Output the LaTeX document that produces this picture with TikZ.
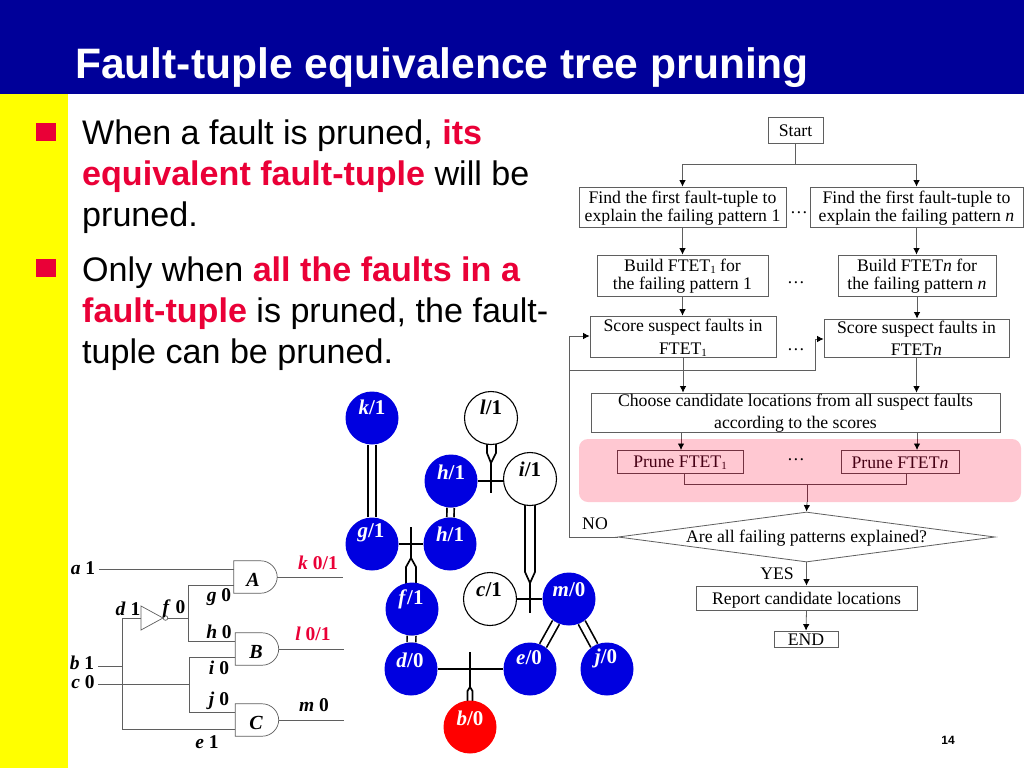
\documentclass[tikz,border=0pt]{standalone}
\usepackage{fontspec}
\setmainfont{Liberation Serif}
\newfontfamily\arialf{Liberation Sans}
\usetikzlibrary{arrows.meta,shapes.geometric,calc}
\pgfdeclarelayer{base}
\pgfdeclarelayer{wires}
\pgfsetlayers{base,wires,main}
\definecolor{hdrblue}{RGB}{0,0,153}
\definecolor{slideyellow}{RGB}{255,255,0}
\definecolor{accentred}{RGB}{234,0,55}
\definecolor{pinkband}{RGB}{255,200,210}
\definecolor{treeblue}{RGB}{0,0,224}
\definecolor{treered}{RGB}{255,0,0}
\definecolor{wiregray}{RGB}{95,95,95}
\definecolor{pinkline}{RGB}{115,50,65}
\definecolor{pinktext}{RGB}{70,0,20}
\newcommand{\lowidx}[1]{\raisebox{-2pt}{\fontsize{11}{11}\selectfont #1}}
% push the text of a box down without moving the box
\newcommand{\dnone}[2]{\raisebox{-#1}[\height][\depth]{#2}}
\newcommand{\dnmulti}[1]{\rule{0pt}{\dimexpr12.1pt+2\dimexpr#1\relax\relax}}
\newcommand{\andshape}[1]{%
  \draw[wire,fill=none] (#1.north west) -- ++(27,0) .. controls ++(8.8,0) and ($(#1.east)+(0,-8.8)$) .. (#1.east)
    .. controls ($(#1.east)+(0,8.8)$) and ($(#1.south west)+(35.8,0)$) .. ($(#1.south west)+(27,0)$) -- (#1.south west) -- cycle;}
\tikzset{
  x=1pt,y=-1pt,
  titletext/.style={anchor=base west,inner sep=0pt,text=white,font=\arialf\bfseries\fontsize{42.6}{46}\selectfont},
  bodytext/.style={anchor=base west,inner sep=0pt,font=\arialf\fontsize{34.1}{38}\selectfont},
  flowbox/.style={draw=wiregray,line width=0.8pt,inner xsep=0pt,inner ysep=-4pt,align=center,font=\fontsize{17.7}{18}\selectfont},
  prunebox/.style={flowbox,draw=pinkline,text=pinktext},
  flowlabel/.style={inner sep=0pt,font=\fontsize{17.7}{18}\selectfont},
  tiphead/.tip={Latex[length=6.5pt,width=6.5pt,black]},
  flow/.style={draw=wiregray,line width=0.8pt,-tiphead},
  flowplain/.style={draw=wiregray,line width=0.8pt},
  pinkflow/.style={draw=pinkline,line width=0.8pt},
  wire/.style={draw=wiregray,line width=0.7pt},
  gatebox/.style={inner sep=0pt,minimum width=43pt,minimum height=32pt},
  gatelabel/.style={inner sep=0pt,font=\bfseries\itshape\fontsize{20}{22}\selectfont},
  siglabel/.style={inner sep=0pt,anchor=center,font=\bfseries\fontsize{19.5}{20}\selectfont},
  faultfill/.style={circle,minimum size=53pt,inner sep=0pt,fill=treeblue,text=white},
  faultwhite/.style={circle,minimum size=53pt,inner sep=0pt,draw=black,line width=1.1pt,fill=white},
  faultred/.style={circle,minimum size=53pt,inner sep=0pt,fill=treered,text=white},
  facetext/.style={inner sep=0pt,font=\bfseries\fontsize{21}{22}\selectfont},
  dbl/.style={draw=black,line width=1.7pt,fill=white},
  dblline/.style={draw=black,line width=1.7pt,double=white,double distance=#1},
  single/.style={draw=black,line width=1.2pt},
}
\begin{document}
\begin{tikzpicture}
\useasboundingbox (0,0) rectangle (1024,768);
\begin{pgfonlayer}{base}
\fill[white] (0,0) rectangle (1024,768);
\fill[hdrblue] (0,0) rectangle (1024,94);
\fill[slideyellow] (0,94) rectangle (68,768);
\fill[pinkband,rounded corners=9pt] (579,439) rectangle (1021,502);
\end{pgfonlayer}
\node[titletext] (title) at (75,78) {Fault-tuple equivalence tree pruning};

% bullets
\fill[accentred] (36,123) rectangle (56,141);
\fill[accentred] (36,259) rectangle (56,277);
\node[bodytext] (l1) at (82,144) {When a fault is pruned, \textcolor{accentred}{\textbf{its}}};
\node[bodytext] (l2) at (82,185) {\textcolor{accentred}{\textbf{equivalent fault-tuple}} will be};
\node[bodytext] (l3) at (82,226) {pruned.};
\node[bodytext] (l4) at (82,281) {Only when \textcolor{accentred}{\textbf{all the faults in a}}};
\node[bodytext] (l5) at (82,322) {\textcolor{accentred}{\textbf{fault-tuple}} is pruned, the fault-};
\node[bodytext] (l6) at (82,363) {tuple can be pruned.};

% flowchart
\node[flowbox,minimum width=55pt,minimum height=26pt] (start) at (795.5,130) {\dnone{1pt}{Start}};
\node[flowbox,minimum width=207pt,minimum height=40pt] (find1) at (682.5,207) {\dnmulti{1pt}Find the first fault-tuple to\\explain the failing pattern 1};
\node[flowbox,minimum width=213pt,minimum height=40pt] (findn) at (916.5,207) {\dnmulti{1pt}Find the first fault-tuple to\\explain the failing pattern \textit{n}};
\node[flowbox,minimum width=171pt,minimum height=41pt] (build1) at (682.5,275.5) {\dnmulti{1pt}Build FTET\lowidx{1} for\\the failing pattern 1};
\node[flowbox,minimum width=158pt,minimum height=41pt] (buildn) at (917,275.5) {\dnmulti{1pt}Build FTET\textit{n} for\\the failing pattern \textit{n}};
\node[flowbox,minimum width=186pt,minimum height=41pt,font=\fontsize{17.7}{23}\selectfont] (score1) at (683,336.5) {\dnmulti{1.5pt}Score suspect faults in\\FTET\lowidx{1}};
\node[flowbox,minimum width=185pt,minimum height=38pt,font=\fontsize{17.7}{22}\selectfont] (scoren) at (916.5,338) {Score suspect faults in\\FTET\textit{n}};
\node[flowbox,minimum width=409pt,minimum height=39pt,font=\fontsize{17.7}{22}\selectfont] (choose) at (795.5,412.5) {\dnmulti{1pt}Choose candidate locations from all suspect faults\\according to the scores};
\node[prunebox,minimum width=126pt,minimum height=23pt] (prune1) at (680,461.5) {\dnone{1pt}{Prune FTET\lowidx{1}}};
\node[prunebox,minimum width=118pt,minimum height=23pt] (prunen) at (900,461.5) {\dnone{1pt}{Prune FTET\textit{n}}};
\node[diamond,aspect=7.54,draw=wiregray,line width=0.8pt,inner sep=0pt,minimum width=377pt,minimum height=50pt,font=\fontsize{17.7}{18}\selectfont] (ask) at (806.5,537) {\dnone{1.5pt}{Are all failing patterns explained?}};
\node[flowbox,minimum width=221pt,minimum height=24pt] (report) at (806.5,598) {\dnone{2pt}{Report candidate locations}};
\node[flowbox,minimum width=64pt,minimum height=16pt] (endbox) at (806,639) {\dnone{1pt}{END}};

\node[flowlabel] (dots1) at (799,213) {…};
\node[flowlabel] (dots2) at (796,283) {…};
\node[flowlabel] (dots3) at (796,350) {…};
\node[flowlabel] (dots4) at (796,460) {…};
\node[flowlabel] (nolabel) at (595,524) {NO};
\node[flowlabel] (yeslabel) at (777,574) {YES};

\coordinate (split) at ($(start.south)+(0,21)$);
\draw[flowplain] (start.south) -- (split);
\draw[flow] (split) -- (split -| find1.north) -- (find1.north);
\draw[flow] (split) -- (split -| findn.north) -- (findn.north);
\draw[flow] (find1.south) -- (build1.north);
\draw[flow] (findn.south) -- (findn.south |- buildn.north);
\draw[flow] (build1.south) -- (score1.north -| build1.south);
\draw[flow] (buildn.south) -- (scoren.north -| buildn.south);
\draw[flow] (score1.south) -- (choose.north -| score1.south);
\draw[flow] (scoren.south) -- (choose.north -| scoren.south);
\coordinate (c1out) at (681,432);
\coordinate (cnout) at (917,432);
\draw[flowplain] (c1out) -- (681,439);
\draw[flowplain] (cnout) -- (917,439);
\draw[pinkflow,-tiphead] (681,439) -- (681,450);
\draw[pinkflow,-tiphead] (917,439) -- (917,450);
\coordinate (merge) at (807,484);
\draw[pinkflow] (684,473) -- (684,484) -- (906,484) -- (906,473);
\draw[pinkflow] (merge) -- (807,502);
\draw[flow] (807,502) -- (ask.north);
\draw[flow] (ask.south) -- (report.north);
\draw[flow] (report.south) -- (endbox.north);
\coordinate (loop) at (569,537);
\coordinate (loopa) at (569,336);
\coordinate (loopb) at (569,370);
\coordinate (loopc) at (815,370);
\draw[flow] (ask.west) -- (loop) -- (loopa) -- (score1.west |- loopa);
\draw[flow] (loopb) -- (loopc) -- (815,339) -- (scoren.west |- 0,339);

% circuit
\node[gatebox] (A) at (255.5,577) {};
\node[gatebox] (B) at (257,649) {};
\node[gatebox] (C) at (257,720) {};
\andshape{A}\andshape{B}\andshape{C}
\node[gatelabel] (Al) at (253,580) {A};
\node[gatelabel] (Bl) at (256,652) {B};
\node[gatelabel] (Cl) at (256,723) {C};
\coordinate (invin) at (141,618);
\coordinate (invout) at (168,618);
\draw[wire] (141,606) -- (163,618) -- (141,630) -- cycle;
\draw[wire] (165.5,618) circle[radius=2.3];
\coordinate (aw) at (99,569);
\coordinate (bw) at (98,666);
\coordinate (cw) at (98,684);
\coordinate (dj) at (122,666);
\coordinate (fj) at (188,618);
\coordinate (cj) at (189,684);
\draw[wire] (aw) -- (A.west |- aw);
\draw[wire] (bw) -- (dj);
\draw[wire] (cw) -- (cj);
\draw[wire] (invin) -- (122,618) -- (122,729) -- (C.west |- 0,729);
\draw[wire] (invout) -- (fj);
\draw[wire] (A.west |- 0,585) -- (188,585) -- (188,641) -- (B.west |- 0,641);
\draw[wire] (B.west |- 0,657) -- (189,657) -- (189,712) -- (C.west |- 0,712);
\draw[wire] (A.east) -- (343,577);
\draw[wire] (B.east) -- (344,649);
\draw[wire] (C.east) -- (344,720);

\node[siglabel] (sa) at (83,568) {\textit{a} 1};
\node[siglabel] (sb) at (82,663) {\textit{b} 1};
\node[siglabel] (sc) at (83,682) {\textit{c} 0};
\node[siglabel] (sd) at (128,609) {\textit{d} 1};
\node[siglabel] (se) at (207,742) {\textit{e} 1};
\node[siglabel] (sf) at (174,609) {\textit{f} 0};
\node[siglabel] (sg) at (219,597) {\textit{g} 0};
\node[siglabel] (sh) at (219,632) {\textit{h} 0};
\node[siglabel] (si) at (219,668) {\textit{i} 0};
\node[siglabel] (sj) at (219,701) {\textit{j} 0};
\node[siglabel,text=accentred] (sk) at (318,563) {\textit{k} 0/1};
\node[siglabel,text=accentred] (sl) at (313,634) {\textit{l} 0/1};
\node[siglabel] (sm) at (314,705) {\textit{m} 0};

% fault tree
\node[faultfill] (k) at (372,418) {};
\node[faultwhite] (l) at (491,418) {};
\node[faultfill] (h1) at (451,481) {};
\node[faultwhite] (i) at (530,479) {};
\node[faultfill] (g) at (372,544) {};
\node[faultfill] (h2) at (450,544) {};
\node[faultfill] (f) at (412,609) {};
\node[faultwhite] (c) at (490,599) {};
\node[faultfill] (m) at (569,599) {};
\node[faultfill] (d) at (411,669) {};
\node[faultfill] (e) at (530,669) {};
\node[faultfill] (j) at (607,669) {};
\node[faultred] (b) at (470,727) {};

\begin{pgfonlayer}{wires}
\draw[dblline=6.5pt] (k) -- (g);
\draw[dblline=5.5pt] (h1) -- (h2);
\draw[dblline=7pt] (f) -- (d);
\draw[dblline=6pt] (m) -- (e);
\draw[dblline=6pt] (m) -- (j);
\draw[single] (g) -- (h2);
\draw[single] (h1) -- (h1 -| i);
\draw[single] (c) -- (m);
\draw[single] (d) -- (e);
\coordinate (tipf) at (411,558);
\coordinate (tipl) at (491,463);
\coordinate (tipm) at (530,583);
\coordinate (tipb) at (470,687);
\draw[single] (411,527) -- (tipf);
\draw[single] (tipl) -- (491,493);
\draw[single] (tipm) -- (530,613);
\draw[single] (470,652) -- (tipb);
\draw[dbl] (406,595) -- (406,567) -- (tipf) -- (416,567) -- (416,595);
\draw[dbl] (487,435) -- (487,453) -- (tipl) -- (496,453) -- (496,435);
\draw[dbl] (525,495) -- (525,572) -- (tipm) -- (535,572) -- (535,495);
\draw[dbl] (467.5,710) -- (467.5,691) -- (tipb) -- (472.5,691) -- (472.5,710);
\end{pgfonlayer}
\node[facetext,text=white] (tk) at (372,407) {\textit{k}/1};
\node[facetext] (tl) at (491,407) {\textit{l}/1};
\node[facetext,text=white] (th1) at (451,472) {\textit{h}/1};
\node[facetext] (ti) at (530,469) {\textit{i}/1};
\node[facetext,text=white] (tg) at (371,533) {\textit{g}/1};
\node[facetext,text=white] (th2) at (450,534) {\textit{h}/1};
\node[facetext,text=white] (tf) at (411,599) {\textit{f}/1};
\node[facetext] (tc) at (489,590) {\textit{c}/1};
\node[facetext,text=white] (tm) at (569,590) {\textit{m}/0};
\node[facetext,text=white] (td) at (410,660) {\textit{d}/0};
\node[facetext,text=white] (te) at (529,658) {\textit{e}/0};
\node[facetext,text=white] (tj) at (606,658) {\textit{j}/0};
\node[facetext,text=white] (tb) at (470,718) {\textit{b}/0};

\node[inner sep=0pt,font=\arialf\bfseries\fontsize{12}{14}\selectfont] (pageno) at (948,740) {14};
\end{tikzpicture}
\end{document}
